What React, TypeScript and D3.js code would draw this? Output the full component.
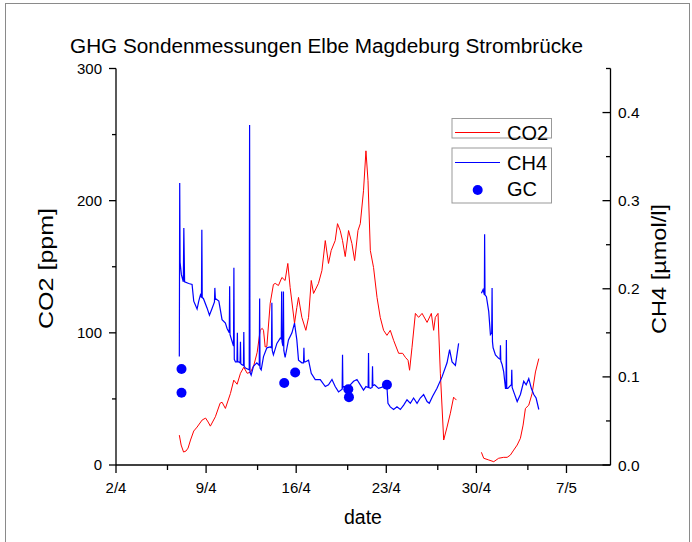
import React from "react";
import * as d3 from "d3";

// x values are days after 2 April
const xTickDays = [0, 7, 14, 21, 28, 35];
const xTickLabels = ["2/4", "9/4", "16/4", "23/4", "30/4", "7/5"];
const xMinorDays = [4, 11, 18, 25, 32];
const co2Ticks = [0, 100, 200, 300];
const co2Minor = [50, 150, 250];
const ch4Ticks = [0.0, 0.1, 0.2, 0.3, 0.4];
const ch4Minor = [0.05, 0.15, 0.25, 0.35, 0.45];

// [day, CO2 ppm]; null marks the data gap
const co2Series: [number, number | null][] = [
  [4.92, 22.6], [5.06, 15.1], [5.25, 9.8], [5.44, 10.6], [5.6, 12.8], [5.79, 18.9], [6.04, 25.7], [6.3, 28.7],
  [6.69, 34.0], [6.96, 35.5], [7.16, 32.5], [7.33, 29.4], [7.72, 36.5], [8.09, 46.8], [8.24, 47.5], [8.5, 42.8],
  [8.89, 54.1], [9.15, 64.2], [9.41, 61.1], [9.67, 69.4], [9.93, 74.0], [10.19, 69.4], [10.45, 70.2], [10.71, 75.5],
  [10.97, 85.3], [11.2, 101.9], [11.36, 103.4], [11.46, 101.9], [11.59, 89.3], [11.72, 89.8], [11.98, 122.3],
  [12.23, 136.6], [12.37, 137.4], [12.62, 135.8], [12.89, 141.9], [13.14, 139.6], [13.35, 152.5], [13.53, 134.3],
  [13.87, 107.2], [14.05, 119.2], [14.18, 126.8], [14.44, 111.7], [14.75, 101.9], [14.96, 111.7], [15.17, 139.6],
  [15.35, 129.8], [15.73, 137.4], [16.0, 147.2], [16.26, 169.8], [16.51, 152.5], [16.72, 162.3], [17.03, 169.8],
  [17.21, 182.6], [17.42, 177.4], [17.6, 169.8], [17.81, 157.7], [18.07, 177.4], [18.33, 167.5], [18.54, 154.7],
  [18.8, 177.4], [18.98, 182.6], [19.23, 207.5], [19.42, 237.7], [19.58, 215.1], [19.76, 162.3], [20.01, 149.4],
  [20.28, 126.8], [20.53, 111.7], [20.79, 101.9], [21.05, 98.1], [21.31, 101.9], [21.57, 94.3], [21.96, 84.5],
  [22.27, 84.5], [22.48, 81.5], [22.69, 79.2], [22.81, 71.7], [23.0, 89.1], [23.26, 114.7], [23.51, 111.7],
  [23.78, 114.7], [24.17, 107.9], [24.5, 114.7], [24.68, 101.9], [24.81, 111.7], [25.02, 114.7], [25.2, 69.4],
  [25.46, 18.9], [25.72, 28.7], [25.98, 39.2], [26.23, 51.3], [26.45, 49.1],
  [27.4, null],
  [28.39, 9.6], [28.57, 5.1], [28.96, 3.8], [29.35, 2.5], [29.73, 5.1], [30.12, 5.8], [30.39, 5.8], [30.64, 7.5],
  [30.9, 11.3], [31.17, 15.1], [31.42, 20.2], [31.63, 30.2], [31.81, 42.8], [32.07, 45.3], [32.33, 54.1],
  [32.59, 70.4], [32.85, 80.5],
];

// [day, CH4 µmol/l]; null marks the data gap
const ch4Series: [number, number | null][] = [
  [4.92, 0.123], [4.95, 0.32], [4.98, 0.23], [5.08, 0.216], [5.23, 0.208], [5.27, 0.269], [5.33, 0.208],
  [5.65, 0.206], [5.91, 0.205], [6.04, 0.186], [6.3, 0.177], [6.43, 0.186], [6.56, 0.193], [6.64, 0.19],
  [6.67, 0.267], [6.7, 0.19], [6.79, 0.189], [7.08, 0.178], [7.26, 0.17], [7.47, 0.178], [7.65, 0.185],
  [7.68, 0.201], [7.72, 0.189], [7.99, 0.186], [8.24, 0.165], [8.5, 0.161], [8.63, 0.155], [8.8, 0.15],
  [8.83, 0.203], [8.86, 0.148], [8.94, 0.144], [9.13, 0.135], [9.16, 0.224], [9.19, 0.12], [9.28, 0.117],
  [9.4, 0.117], [9.43, 0.15], [9.46, 0.117], [9.54, 0.117], [9.64, 0.116], [9.67, 0.14], [9.7, 0.115],
  [9.76, 0.114], [9.9, 0.113], [9.93, 0.151], [9.96, 0.112], [10.06, 0.11], [10.35, 0.108], [10.38, 0.386],
  [10.41, 0.105], [10.5, 0.102], [10.68, 0.112], [10.94, 0.116], [11.13, 0.113], [11.16, 0.189], [11.19, 0.11],
  [11.28, 0.108], [11.46, 0.123], [11.72, 0.133], [11.98, 0.134], [12.08, 0.133], [12.11, 0.184], [12.14, 0.13],
  [12.23, 0.125], [12.5, 0.138], [12.76, 0.144], [12.84, 0.143], [12.87, 0.197], [12.9, 0.14], [12.95, 0.136],
  [12.98, 0.135], [13.01, 0.197], [13.04, 0.13], [13.14, 0.122], [13.4, 0.142], [13.67, 0.15], [13.87, 0.161],
  [14.05, 0.142], [14.18, 0.119], [14.44, 0.116], [14.57, 0.116], [14.6, 0.133], [14.63, 0.117], [14.7, 0.117],
  [14.96, 0.119], [15.17, 0.104], [15.48, 0.097], [15.87, 0.097], [16.26, 0.089], [16.51, 0.091], [16.78, 0.097],
  [17.03, 0.089], [17.29, 0.083], [17.57, 0.086], [17.6, 0.125], [17.63, 0.088], [17.68, 0.089], [18.07, 0.089],
  [18.2, 0.091], [18.46, 0.095], [18.72, 0.097], [18.98, 0.091], [19.23, 0.085], [19.42, 0.089], [19.59, 0.088],
  [19.62, 0.127], [19.65, 0.088], [19.76, 0.087], [19.9, 0.088], [19.93, 0.112], [19.96, 0.09], [20.09, 0.091],
  [20.4, 0.087], [20.79, 0.089], [21.05, 0.089], [21.13, 0.07], [21.31, 0.066], [21.57, 0.063], [21.83, 0.066],
  [22.09, 0.063], [22.35, 0.068], [22.61, 0.074], [22.87, 0.07], [23.12, 0.076], [23.39, 0.07], [23.64, 0.076],
  [23.9, 0.08], [24.17, 0.072], [24.34, 0.07], [24.6, 0.078], [24.94, 0.087], [25.33, 0.1], [25.72, 0.116],
  [25.92, 0.131], [26.11, 0.117], [26.37, 0.113], [26.62, 0.138],
  [27.5, null],
  [28.39, 0.195], [28.52, 0.199], [28.62, 0.193], [28.64, 0.262], [28.67, 0.193], [28.78, 0.191], [28.96, 0.174],
  [29.09, 0.148], [29.19, 0.15], [29.22, 0.201], [29.25, 0.14], [29.3, 0.133], [29.48, 0.125], [29.73, 0.121],
  [29.84, 0.12], [29.87, 0.136], [29.9, 0.118], [30.0, 0.114], [30.12, 0.106], [30.26, 0.087], [30.3, 0.087],
  [30.33, 0.142], [30.36, 0.087], [30.44, 0.087], [30.7, 0.091], [30.72, 0.09], [30.75, 0.108], [30.78, 0.088],
  [30.9, 0.083], [31.17, 0.072], [31.42, 0.08], [31.68, 0.095], [31.87, 0.091], [32.07, 0.098], [32.27, 0.087],
  [32.46, 0.08], [32.64, 0.076], [32.85, 0.063],
];

const gcDays = [5.09, 5.09, 13.07, 13.92, 18.05, 18.1, 21.05];
const gcValues = [0.109, 0.082, 0.093, 0.105, 0.086, 0.077, 0.091];

const FONT = "'Liberation Sans', Arial, sans-serif";

export default function App() {
  const left = 116;
  const right = 610.5;
  const top = 68.5;
  const bottom = 465;

  const x = d3.scaleLinear().domain([0, 38.42]).range([left, right]);
  const yL = d3.scaleLinear().domain([0, 300]).range([bottom, top]);
  const yR = d3.scaleLinear().domain([0, 0.45]).range([bottom, top]);

  const co2Line = d3
    .line<[number, number | null]>()
    .defined((p) => p[1] != null)
    .x((p) => x(p[0]))
    .y((p) => yL(p[1] as number));
  const ch4Line = d3
    .line<[number, number | null]>()
    .defined((p) => p[1] != null)
    .x((p) => x(p[0]))
    .y((p) => yR(p[1] as number));

  const axisColor = "#000";
  const tickFont = 15;

  return (
    <svg width={692} height={542} style={{ display: "block", position: "absolute", left: 0, top: 0 }} fontFamily={FONT}>
      <rect x={0} y={0} width={692} height={542} fill="#fff" />
      <rect x={5.5} y={3.5} width={684} height={560} fill="none" stroke="#8a8a8a" strokeWidth={1} />

      <text x={70} y={52.5} fontSize={20} textLength={513} lengthAdjust="spacingAndGlyphs" fill="#000">
        GHG Sondenmessungen Elbe Magdeburg Strombrücke
      </text>

      {/* data */}
      <path d={co2Line(co2Series) || ""} fill="none" stroke="#ff0000" strokeWidth={1} />
      <path d={ch4Line(ch4Series) || ""} fill="none" stroke="#0000ff" strokeWidth={1.2} />
      {gcDays.map((d, i) => (
        <circle key={i} cx={x(d)} cy={yR(gcValues[i])} r={5} fill="#0000ff" />
      ))}

      {/* axes lines */}
      <line x1={left} x2={left} y1={top} y2={bottom} stroke={axisColor} strokeWidth={1.3} />
      <line x1={right} x2={right} y1={top} y2={bottom} stroke={axisColor} strokeWidth={1.3} />
      <line x1={left} x2={right} y1={bottom} y2={bottom} stroke={axisColor} strokeWidth={1.3} />

      {/* left axis ticks */}
      {co2Ticks.map((t) => (
        <g key={"l" + t}>
          <line x1={left - 7} x2={left} y1={yL(t)} y2={yL(t)} stroke={axisColor} strokeWidth={1.3} />
          <text x={102} y={yL(t)} dy="0.36em" textAnchor="end" fontSize={tickFont}>
            {t}
          </text>
        </g>
      ))}
      {co2Minor.map((t) => (
        <line key={"lm" + t} x1={left - 4} x2={left} y1={yL(t)} y2={yL(t)} stroke={axisColor} strokeWidth={1.3} />
      ))}

      {/* right axis ticks */}
      {ch4Ticks.map((t) => (
        <g key={"r" + t}>
          <line x1={right - 8} x2={right} y1={yR(t)} y2={yR(t)} stroke={axisColor} strokeWidth={1.3} />
          <text x={618} y={yR(t)} dy="0.36em" textAnchor="start" fontSize={15.5}>
            {d3.format(".1f")(t)}
          </text>
        </g>
      ))}
      {ch4Minor.map((t) => (
        <line key={"rm" + t} x1={right - 4.5} x2={right} y1={yR(t)} y2={yR(t)} stroke={axisColor} strokeWidth={1.3} />
      ))}

      {/* bottom axis ticks */}
      {xTickDays.map((t, i) => (
        <g key={"b" + t}>
          <line x1={x(t)} x2={x(t)} y1={bottom} y2={bottom + 8} stroke={axisColor} strokeWidth={1.3} />
          <text x={x(t)} y={492.5} textAnchor="middle" fontSize={tickFont}>
            {xTickLabels[i]}
          </text>
        </g>
      ))}
      {xMinorDays.map((t) => (
        <line key={"bm" + t} x1={x(t)} x2={x(t)} y1={bottom} y2={bottom + 5} stroke={axisColor} strokeWidth={1.3} />
      ))}

      {/* axis titles */}
      <text x={363} y={524} textAnchor="middle" fontSize={19.5}>
        date
      </text>
      <text
        transform={`translate(53,268.5) rotate(-90)`}
        textAnchor="middle"
        fontSize={20}
        textLength={121}
        lengthAdjust="spacingAndGlyphs"
      >
        CO2 [ppm]
      </text>
      <text
        transform={`translate(666,269) rotate(-90)`}
        textAnchor="middle"
        fontSize={20}
        textLength={130}
        lengthAdjust="spacingAndGlyphs"
      >
        CH4 [µmol/l]
      </text>

      {/* legend */}
      <rect x={452} y={118.5} width={99.5} height={19.5} fill="#fff" stroke="#999" strokeWidth={1} />
      <line x1={455} x2={500} y1={132.5} y2={132.5} stroke="#ff0000" strokeWidth={1} />
      <text x={507} y={140} fontSize={20}>
        CO2
      </text>
      <rect x={452} y={148} width={99.5} height={55} fill="#fff" stroke="#999" strokeWidth={1} />
      <line x1={455} x2={500} y1={162.5} y2={162.5} stroke="#0000ff" strokeWidth={1.2} />
      <text x={507} y={169.5} fontSize={20}>
        CH4
      </text>
      <circle cx={477.7} cy={190} r={5} fill="#0000ff" />
      <text x={507} y={195.5} fontSize={20}>
        GC
      </text>
    </svg>
  );
}
